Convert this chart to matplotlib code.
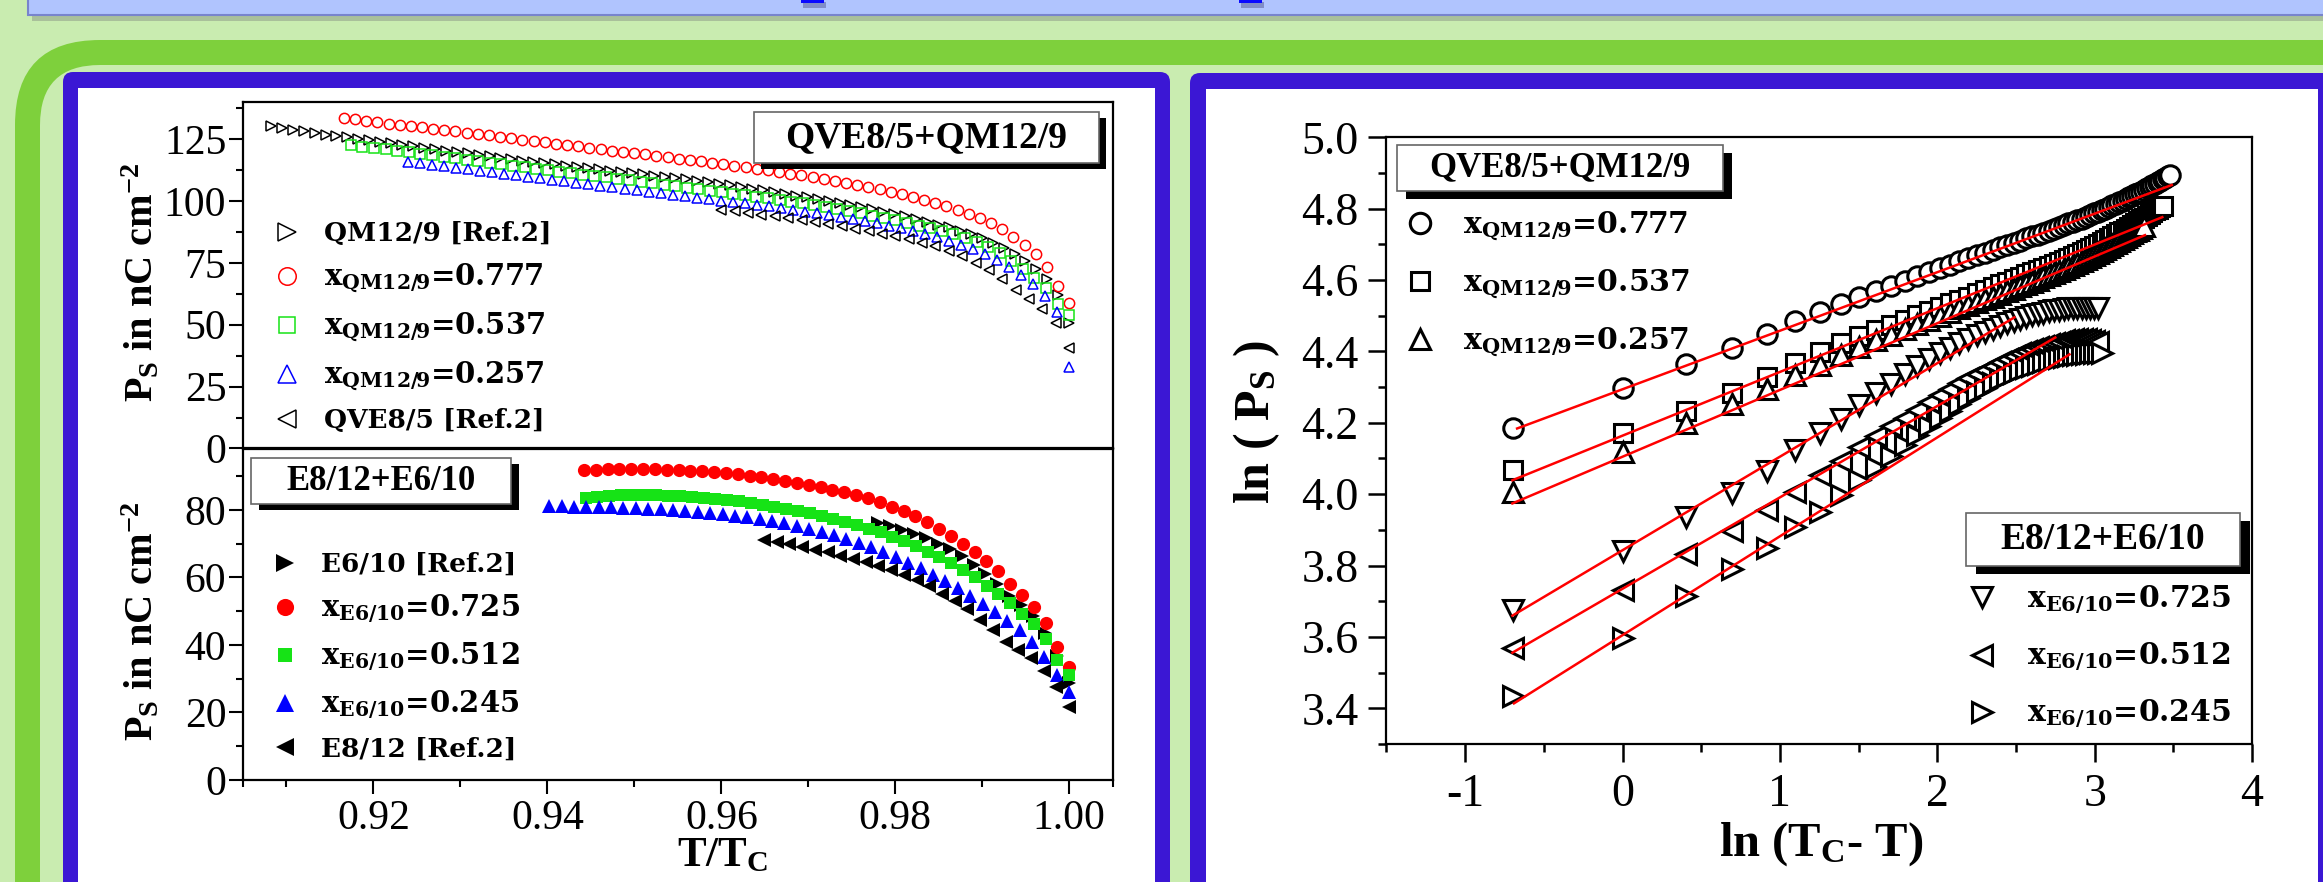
import numpy as np
import matplotlib
matplotlib.use("Agg")
import matplotlib.pyplot as plt
from matplotlib.patches import Rectangle, FancyBboxPatch
from matplotlib.transforms import IdentityTransform
from matplotlib.ticker import MultipleLocator, FixedLocator, FormatStrFormatter

plt.rcParams['font.family'] = ['Liberation Serif', 'DejaVu Serif']
plt.rcParams['mathtext.fontset'] = 'custom'
plt.rcParams['mathtext.rm'] = 'Liberation Serif'
plt.rcParams['mathtext.bf'] = 'DejaVu Serif:bold'
plt.rcParams['mathtext.sf'] = 'Liberation Serif:bold'
plt.rcParams['mathtext.it'] = 'Liberation Serif:italic'
plt.rcParams['axes.unicode_minus'] = False

# ---------------- data ----------------
# temperature below Tc (K) at which Ps was measured
dT = [0.0, 0.5, 1.0, 1.5, 2.0, 2.5, 3.0, 3.5, 4.0, 4.5, 5.0, 5.5, 6.0, 6.5, 7.0, 7.5,
      8.0, 8.5, 9.0, 9.5, 10.0, 10.5, 11.0, 11.5, 12.0, 12.5, 13.0, 13.5, 14.0, 14.5,
      15.0, 15.5, 16.0, 16.5, 17.0, 17.5, 18.0, 18.5, 19.0, 19.5, 20.0, 20.5, 21.0,
      21.5, 22.0, 22.5, 23.0, 23.5, 24.0, 24.5, 25.0, 25.5, 26.0, 26.5, 27.0, 27.5,
      28.0, 28.5, 29.0, 29.5, 30.0, 30.5, 31.0, 31.5, 32.0, 32.5, 33.0, 33.5, 34.0,
      34.5, 35.0, 35.5, 36.0, 36.5]

# QVE8/5 + QM12/9 system (Ps in nC cm^-2, index i -> dT[i])
tc_qm_ref = 397.6
ps_qm_ref = [50.6, 62.0, 68.5, 72.6, 75.8, 78.6, 81.0, 83.1, 84.9, 86.5, 88.0, 89.3, 90.5,
             91.7, 92.8, 93.8, 94.8, 95.7, 96.6, 97.5, 98.3, 99.1, 99.9, 100.7, 101.5,
             102.2, 102.9, 103.6, 104.3, 105.0, 105.7, 106.3, 106.9, 107.5, 108.1, 108.7,
             109.3, 109.8, 110.3, 110.8, 111.3, 111.8, 112.3, 112.8, 113.3, 113.8, 114.3,
             114.8, 115.3, 115.8, 116.3, 116.8, 117.4, 118.0, 118.6, 119.2, 119.8, 120.4,
             121.0, 121.6, 122.2, 122.8, 123.4, 124.0, 124.7, 125.0, 125.7, 126.1, 126.8,
             127.5, 128.1, 128.8, 129.5, 130.2]
tc_qm777 = 389.7
ps_qm777 = [58.7, 65.7, 73.5, 78.6, 82.2, 85.6, 88.6, 91.0, 93.1, 94.9, 96.5, 97.9, 99.2,
            100.5, 101.7, 102.8, 103.8, 104.8, 105.7, 106.6, 107.4, 108.2, 109.0, 109.7,
            110.4, 111.1, 111.8, 112.4, 113.0, 113.6, 114.2, 114.8, 115.4, 116.0, 116.6,
            117.1, 117.7, 118.2, 118.8, 119.3, 119.9, 120.4, 121.0, 121.5, 122.1, 122.6,
            123.2, 123.7, 124.3, 124.8, 125.4, 125.9, 126.5, 127.0, 127.5, 128.1, 128.6,
            129.2, 129.7, 130.2, 130.8, 131.3, 131.9, 132.4, 133.0, 133.5]
tc_qm537 = 375.3
ps_qm537 = [53.9, 58.5, 64.8, 69.0, 72.4, 75.8, 78.8, 81.3, 83.3, 85.0, 86.5, 87.8, 89.0,
            90.1, 91.2, 92.2, 93.2, 94.1, 95.0, 95.9, 96.7, 97.5, 98.3, 99.0, 99.7, 100.4,
            101.1, 101.7, 102.3, 102.9, 103.5, 104.1, 104.7, 105.3, 105.9, 106.5, 107.1,
            107.7, 108.3, 108.9, 109.5, 110.1, 110.7, 111.3, 111.9, 112.5, 113.1, 113.7,
            114.3, 114.9, 115.5, 116.1, 116.7, 117.3, 117.9, 118.5, 119.1, 119.7, 120.3,
            120.9, 121.4, 122.0, 122.5]
tc_qm257 = 361.8
ps_qm257 = [33.0, 55.0, 61.5, 66.6, 70.2, 73.4, 76.2, 78.5, 80.6, 82.4, 84.0, 85.4, 86.7,
            87.9, 89.0, 90.0, 91.0, 91.9, 92.7, 93.5, 94.3, 95.0, 95.7, 96.4, 97.1, 97.8,
            98.4, 99.0, 99.6, 100.2, 100.8, 101.4, 102.0, 102.6, 103.2, 103.8, 104.4,
            105.0, 105.6, 106.2, 106.8, 107.4, 108.0, 108.6, 109.2, 109.8, 110.4, 111.0,
            111.6, 112.2, 112.8, 113.4, 114.0, 114.6, 115.2, 115.9]
tc_qve_ref = 325.0
ps_qve_ref = [40.5, 50.6, 56.3, 60.3, 64.2, 68.5, 72.0, 74.9, 77.8, 79.9, 81.7, 83.2, 84.5,
              85.7, 86.8, 87.8, 88.8, 89.7, 90.6, 91.4, 92.2, 93.0, 93.8, 94.5, 95.2, 95.8,
              96.4]

# E8/12 + E6/10 system
tc_e6_ref = 363.6
ps_e6_ref = [28.7, 36.6, 43.5, 48.6, 51.8, 54.4, 58.2, 61.0, 63.8, 66.5, 68.4, 70.0, 71.6,
             73.0, 74.2, 75.2, 76.1]
tc_e725 = 367.4
ps_e725 = [33.5, 39.5, 46.5, 51.2, 54.8, 58.2, 61.8, 64.8, 67.4, 70.0, 72.4, 74.4, 76.5,
           78.2, 79.7, 81.0, 82.3, 83.4, 84.4, 85.2, 86.0, 86.8, 87.5, 88.1, 88.7, 89.2,
           89.7, 90.1, 90.5, 90.8, 91.1, 91.4, 91.6, 91.8, 91.9, 92.0, 92.0, 92.0, 92.0,
           92.0, 91.9, 91.9]
tc_e512 = 368.7
ps_e512 = [31.0, 35.5, 41.8, 46.2, 49.2, 52.3, 55.0, 57.6, 60.0, 62.3, 64.2, 66.0, 67.6,
           69.2, 70.7, 72.1, 73.4, 74.5, 75.6, 76.5, 77.4, 78.3, 79.1, 79.7, 80.4, 81.0,
           81.5, 82.0, 82.5, 82.8, 83.1, 83.4, 83.7, 84.0, 84.2, 84.4, 84.4, 84.4, 84.3,
           84.1, 83.9, 83.6]
tc_e245 = 351.2
ps_e245 = [26.0, 31.0, 36.5, 41.0, 44.3, 47.0, 49.8, 52.0, 54.4, 56.8, 58.9, 60.8, 62.7,
           64.4, 66.0, 67.6, 69.0, 70.3, 71.5, 72.6, 73.6, 74.5, 75.3, 76.0, 76.7, 77.3,
           77.8, 78.3, 78.7, 79.1, 79.4, 79.7, 80.0, 80.2, 80.4, 80.6, 80.7, 80.8, 80.9,
           81.0, 81.0, 81.1, 81.1]
tc_e8_ref = 341.9
ps_e8_ref = [21.6, 27.5, 32.2, 36.0, 38.5, 40.8, 44.4, 47.5, 50.6, 53.0, 55.2, 57.6, 59.3,
             60.6, 62.2, 63.3, 64.6, 65.6, 66.5, 67.4, 68.2, 69.0, 69.8, 70.5, 71.1]

# linear fits ln(Ps) = a + b ln(Tc-T) shown in the right panel
fit_names = ['0.777', '0.537', '0.257', '0.725', '0.512', '0.245']
fit_slope = [0.164, 0.1785, 0.187, 0.262, 0.256, 0.277]
fit_icpt = [4.294, 4.164, 4.105, 3.843, 3.735, 3.605]
fit_x0 = [-0.67, -0.70, -0.70, -0.70, -0.70, -0.69]
fit_x1 = [3.49, 3.43, 3.32, 2.49, 2.75, 2.84]

left_ticks_top = [0, 25, 50, 75, 100, 125]
left_ticks_bot = [0, 20, 40, 60, 80]
x_ticks_left = [0.92, 0.94, 0.96, 0.98, 1.00]

# ---------------- figure / decorations ----------------
W, H, DPI = 2323, 882, 100
fig = plt.figure(figsize=(W / DPI, H / DPI), dpi=DPI)
BG = '#c9ecb0'
GREEN = '#7ed03c'
BLUE = '#3b17d4'
fig.patch.set_facecolor(BG)
ID = IdentityTransform()


def px_rect(x, y, w, h, **kw):
    return Rectangle((x, H - y - h), w, h, transform=ID, **kw)


def px_round(x, y, w, h, r, **kw):
    return FancyBboxPatch((x, H - y - h), w, h,
                          boxstyle=f"round,pad=0,rounding_size={r}", transform=ID, **kw)


# top banner
fig.add_artist(px_rect(32, -10, 2400, 31, fc='#8f9c88', ec='none', alpha=0.55, zorder=-10))
fig.add_artist(px_rect(28, -10, 2400, 25, fc='#b0c4fe', ec='#7884cc', lw=1.5, zorder=-9))
for bx in (801, 1239):
    fig.add_artist(px_rect(bx + 2, 2, 23, 6, fc='#6d78b0', ec='none', alpha=0.7, zorder=-8))
    fig.add_artist(px_rect(bx, -2, 23, 5, fc='#0a0aff', ec='none', zorder=-8))
# green rounded frame
fig.add_artist(px_round(15, 40, 2600, 1200, 85, fc=GREEN, ec='none', zorder=-10))
fig.add_artist(px_round(40, 65, 2600, 1200, 60, fc=BG, ec='none', zorder=-9))
# panels
fig.add_artist(px_round(63, 72, 1107, 1000, 10, fc=BLUE, ec='none', zorder=-8))
fig.add_artist(px_rect(78, 88, 1077, 1000, fc='white', ec='none', zorder=-7))
fig.add_artist(px_round(1190, 73, 1300, 1000, 10, fc=BLUE, ec='none', zorder=-8))
fig.add_artist(px_rect(1206, 89, 1112, 1000, fc='white', ec='none', zorder=-7))


def add_ax(l, t, r, b):
    return fig.add_axes([l / W, 1 - b / H, (r - l) / W, (b - t) / H])


ax1 = add_ax(243, 102, 1112.7, 448.5)
ax2 = add_ax(243, 448.5, 1112.7, 780)
ax3 = add_ax(1386.5, 137.3, 2252, 744)
for ax in (ax1, ax2, ax3):
    ax.set_facecolor('white')
    for sp in ax.spines.values():
        sp.set_linewidth(1.6)

RED, GRN, BLU = '#ff0000', '#16e316', '#0000ff'


def tt(ps, tc):
    d = np.array(dT[:len(ps)])
    return 1.0 - d / tc, np.array(ps)


# ---------------- top-left ----------------
open_kw = dict(ls='none', ms=7.4, mfc='none', mew=1.1)
h1 = []
for ps, tc, m, c, lab in [
        (ps_qm_ref, tc_qm_ref, '>', 'k', 'QM12/9 [Ref.2]'),
        (ps_qm777, tc_qm777, 'o', RED, r'$\mathbf{x}_{\mathbf{QM12/9}}$=0.777'),
        (ps_qm537, tc_qm537, 's', GRN, r'$\mathbf{x}_{\mathbf{QM12/9}}$=0.537'),
        (ps_qm257, tc_qm257, '^', BLU, r'$\mathbf{x}_{\mathbf{QM12/9}}$=0.257'),
        (ps_qve_ref, tc_qve_ref, '<', 'k', 'QVE8/5 [Ref.2]')]:
    x, y = tt(ps, tc)
    kw = dict(open_kw)
    if m == 's':
        kw['ms'] = 6.6
    ln, = ax1.plot(x, y, marker=m, mec=c, label=lab, **kw)
    h1.append(ln)

ax1.set_xlim(0.905, 1.005)
ax1.set_ylim(0, 140)
ax1.yaxis.set_major_locator(FixedLocator(left_ticks_top))
ax1.yaxis.set_minor_locator(MultipleLocator(12.5))
ax1.tick_params(axis='x', which='both', bottom=False, labelbottom=False)
ax1.tick_params(axis='y', which='major', direction='out', length=10, width=1.5,
                labelsize=30, pad=2)
ax1.tick_params(axis='y', which='minor', direction='out', length=5, width=1.5)

# ---------------- bottom-left ----------------
fill_kw = dict(ls='none', ms=9.5, mew=0)
h2 = []
for ps, tc, m, c, lab in [
        (ps_e6_ref, tc_e6_ref, '>', 'k', 'E6/10 [Ref.2]'),
        (ps_e725, tc_e725, 'o', RED, r'$\mathbf{x}_{\mathbf{E6/10}}$=0.725'),
        (ps_e512, tc_e512, 's', GRN, r'$\mathbf{x}_{\mathbf{E6/10}}$=0.512'),
        (ps_e245, tc_e245, '^', BLU, r'$\mathbf{x}_{\mathbf{E6/10}}$=0.245'),
        (ps_e8_ref, tc_e8_ref, '<', 'k', 'E8/12 [Ref.2]')]:
    x, y = tt(ps, tc)
    kw = dict(fill_kw)
    if m == 's':
        kw['ms'] = 8.3
    ln, = ax2.plot(x, y, marker=m, color=c, label=lab, **kw)
    h2.append(ln)

ax2.set_xlim(0.905, 1.005)
ax2.set_ylim(0, 98.2)
ax2.yaxis.set_major_locator(FixedLocator(left_ticks_bot))
ax2.yaxis.set_minor_locator(MultipleLocator(10))
ax2.xaxis.set_major_locator(FixedLocator(x_ticks_left))
ax2.xaxis.set_minor_locator(FixedLocator([0.905, 0.91, 0.93, 0.95, 0.97, 0.99, 1.005]))
ax2.xaxis.set_major_formatter(FormatStrFormatter('%.2f'))
ax2.tick_params(axis='both', which='major', direction='out', length=10, width=1.5,
                labelsize=30, pad=2)
ax2.tick_params(axis='x', which='major', pad=4.3)
ax2.tick_params(axis='both', which='minor', direction='out', length=5, width=1.5)

ylab = r'P$_\mathsf{S}$ in nC cm$^\mathsf{-2}$'
for ax, yc in ((ax1, 0.480), (ax2, 0.480)):
    ax.set_ylabel(ylab, fontfamily='Liberation Serif', fontweight='bold', fontsize=29)
    ax.yaxis.set_label_coords(-0.093, yc)
ax2.set_xlabel(r'T/T$_\mathsf{C}$', fontfamily='Liberation Serif', fontweight='bold',
               fontsize=31)
ax2.xaxis.set_label_coords(0.551, -0.174)

# ---------------- right ----------------
right_sets = [(ps_qm777, tc_qm777, 'o'), (ps_qm537, tc_qm537, 's'), (ps_qm257, tc_qm257, '^'),
              (ps_e725, tc_e725, 'v'), (ps_e512, tc_e512, '<'), (ps_e245, tc_e245, '>')]
h3 = []
for (ps, tc, m), nm in zip(right_sets, fit_names):
    d = np.array(dT[1:len(ps)])
    ms = 12.5 if m == 's' else 14
    ln, = ax3.plot(np.log(d), np.log(np.array(ps[1:])), ls='none', marker=m, ms=ms,
                   mfc='white', mec='k', mew=2.2)
    h3.append(ln)
for b, a, x0, x1 in zip(fit_slope, fit_icpt, fit_x0, fit_x1):
    xs = np.array([x0, x1])
    ax3.plot(xs, a + b * xs, color='red', lw=1.8, zorder=5)

ax3.set_xlim(-1.5, 4)
ax3.set_ylim(3.3, 5.0)
ax3.xaxis.set_major_locator(MultipleLocator(1))
ax3.xaxis.set_minor_locator(MultipleLocator(0.5))
ax3.yaxis.set_major_locator(MultipleLocator(0.2))
ax3.yaxis.set_minor_locator(MultipleLocator(0.1))
ax3.yaxis.set_major_formatter(FormatStrFormatter('%.1f'))
ax3.tick_params(axis='both', which='major', direction='out', length=13, width=1.8,
                labelsize=33, pad=7)
ax3.tick_params(axis='x', which='major', pad=8)
ax3.tick_params(axis='both', which='minor', direction='out', length=6, width=1.8)
ax3.set_ylabel(r'ln ( P$_\mathsf{S}$ )', fontfamily='Liberation Serif', fontweight='bold',
               fontsize=36)
ax3.yaxis.set_label_coords(-0.121, 0.53)
ax3.set_xlabel(r'ln (T$_\mathsf{C}$- T)', fontfamily='Liberation Serif', fontweight='bold',
               fontsize=35)
ax3.xaxis.set_label_coords(0.502, -0.125)

# ---------------- legends ----------------
LP = dict(family='DejaVu Serif', weight='bold', size=19)
LPR = dict(family='DejaVu Serif', weight='bold', size=21.5)
F = 19 / 72 * DPI
FR = 21.5 / 72 * DPI


def fig_anchor(x, y):
    return (x / W, 1 - y / H)


leg_kw = dict(loc='upper left', bbox_transform=fig.transFigure, frameon=False,
              handlelength=1.0, borderpad=0, borderaxespad=0)
lg1 = ax1.legend(handles=h1, bbox_to_anchor=fig_anchor(287 - F / 2, 221), handletextpad=0.9,
                 labelspacing=0.6, markerscale=1.7, prop=LP, **leg_kw)
lg2 = ax2.legend(handles=h2, bbox_to_anchor=fig_anchor(285 - F / 2, 552), handletextpad=0.86,
                 labelspacing=0.6, markerscale=1.3, prop=LP, **leg_kw)
for lg in (lg1, lg2):
    for t in lg.get_texts()[1:4]:
        t.set_fontsize(21)
lg_a = ax3.legend(handles=h3[:3], labels=[r'$\mathbf{x}_{\mathbf{QM12/9}}$=0.777',
                                          r'$\mathbf{x}_{\mathbf{QM12/9}}$=0.537',
                                          r'$\mathbf{x}_{\mathbf{QM12/9}}$=0.257'],
                  bbox_to_anchor=fig_anchor(1420 - FR / 2, 210), handletextpad=0.95,
                  labelspacing=0.84, markerscale=1.05, prop=LPR, **leg_kw)
ax3.add_artist(lg_a)
ax3.legend(handles=h3[3:], labels=[r'$\mathbf{x}_{\mathbf{E6/10}}$=0.725',
                                   r'$\mathbf{x}_{\mathbf{E6/10}}$=0.512',
                                   r'$\mathbf{x}_{\mathbf{E6/10}}$=0.245'],
           bbox_to_anchor=fig_anchor(1982 - FR / 2, 584), handletextpad=1.0,
           labelspacing=0.84, markerscale=1.05, prop=LPR, **leg_kw)


# ---------------- title boxes with shadow ----------------
def title_box(x, y, w, h, dx, dy, text, fs):
    fig.add_artist(px_rect(x + dx, y + dy, w, h, fc='black', ec='none', zorder=6))
    fig.add_artist(px_rect(x, y, w, h, fc='white', ec='#666666', lw=1.2, zorder=7))
    fig.text((x + w / 2) / W, 1 - (y + h / 2) / H, text, ha='center', va='center',
             fontsize=fs, fontweight='bold', fontfamily='Liberation Serif', zorder=8)


title_box(754, 112, 345, 51, 7, 6, 'QVE8/5+QM12/9', 27)
title_box(251, 458, 260, 46, 8, 6, 'E8/12+E6/10', 25)
title_box(1397, 145, 326, 46, 9, 8, 'QVE8/5+QM12/9', 25)
title_box(1966, 513, 274, 53, 10, 8, 'E8/12+E6/10', 27)

fig.savefig('out.png', dpi=DPI, facecolor=fig.get_facecolor())
